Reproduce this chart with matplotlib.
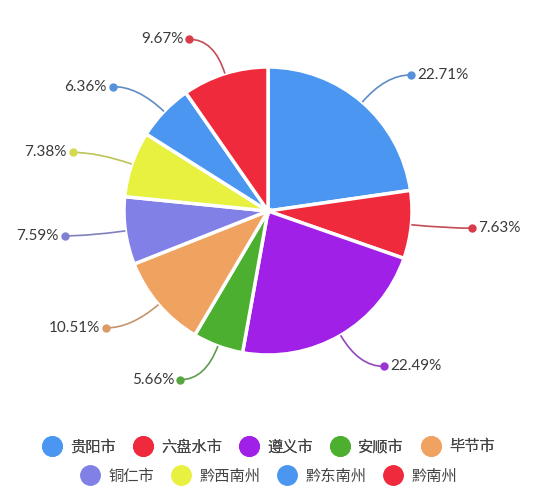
import numpy as np
import matplotlib
matplotlib.use("Agg")
import matplotlib.pyplot as plt
from matplotlib.lines import Line2D
from matplotlib.path import Path
from matplotlib.patches import PathPatch
import matplotlib.colors as mcolors

plt.rcParams['font.family'] = ['Noto Sans CJK SC', 'DejaVu Sans']

categories = ['贵阳市', '六盘水市', '遵义市', '安顺市', '毕节市',
              '铜仁市', '黔西南州', '黔东南州', '黔南州']
values = [22.71, 7.63, 22.49, 5.66, 10.51, 7.59, 7.38, 6.36, 9.67]
colors = ['#4A96F0', '#EE2A3C', '#A020E8', '#4CAF2F', '#F0A260',
          '#8080E6', '#E8F040', '#4A96F0', '#EE2A3C']

W, H = 538, 500
fig = plt.figure(figsize=(W / 100, H / 100), dpi=100)
ax = fig.add_axes([0, 0, 1, 1])
ax.set_xlim(0, W)
ax.set_ylim(0, H)
ax.set_aspect('equal')
ax.axis('off')

cx, cy, R = 268, H - 211, 144
ax.pie(values, colors=colors, startangle=90, counterclock=False,
       center=(cx, cy), radius=R,
       wedgeprops=dict(edgecolor='white', linewidth=2.5))
ax.set_xlim(0, W)
ax.set_ylim(0, H)

def blend(c, f):
    r, g, b = mcolors.to_rgb(c)
    gr = 0.5
    return (r * f + gr * (1 - f), g * f + gr * (1 - f), b * f + gr * (1 - f))

total = sum(values)
cum = 0.0
for v, c in zip(values, colors):
    mid = (cum + v / 2) / total * 2 * np.pi
    cum += v
    s, co = np.sin(mid), np.cos(mid)
    p0 = (cx + R * s, cy + R * co)
    r1 = R + 36
    p1 = (cx + r1 * s, cy + r1 * co)
    side = 1 if s >= 0 else -1
    p2 = (p1[0] + side * 25, p1[1])
    path = Path([p0, p1, p2], [Path.MOVETO, Path.CURVE3, Path.CURVE3])
    ax.add_patch(PathPatch(path, fill=False, edgecolor=blend(c, 0.6), lw=1.2))
    ax.plot([p2[0]], [p2[1]], 'o', color=blend(c, 0.8), markersize=5)
    ax.text(p2[0] + side * 6, p2[1], f'{v:.2f}%', ha='left' if side > 0 else 'right',
            va='center', fontsize=11, color='#3a3a3a',
            family=['Lato', 'DejaVu Sans'])

def handles(idx):
    return [Line2D([], [], marker='o', linestyle='', markersize=14,
                   markerfacecolor=colors[i], markeredgecolor=colors[i])
            for i in idx]

common = dict(loc='center', frameon=False, fontsize=11, handletextpad=0.6,
              columnspacing=1.15, handlelength=1.2, labelcolor='#444444')
row1 = [0, 1, 2, 3, 4]
row2 = [5, 6, 7, 8]
leg1 = fig.legend(handles(row1), [categories[i] for i in row1], ncol=5,
                  bbox_to_anchor=(0.5, 1 - 447 / H), **common)
fig.add_artist(leg1)
leg2 = fig.legend(handles(row2), [categories[i] for i in row2], ncol=4,
                  bbox_to_anchor=(0.5, 1 - 476 / H), **common)

fig.savefig('out.png', dpi=100, facecolor='white')
